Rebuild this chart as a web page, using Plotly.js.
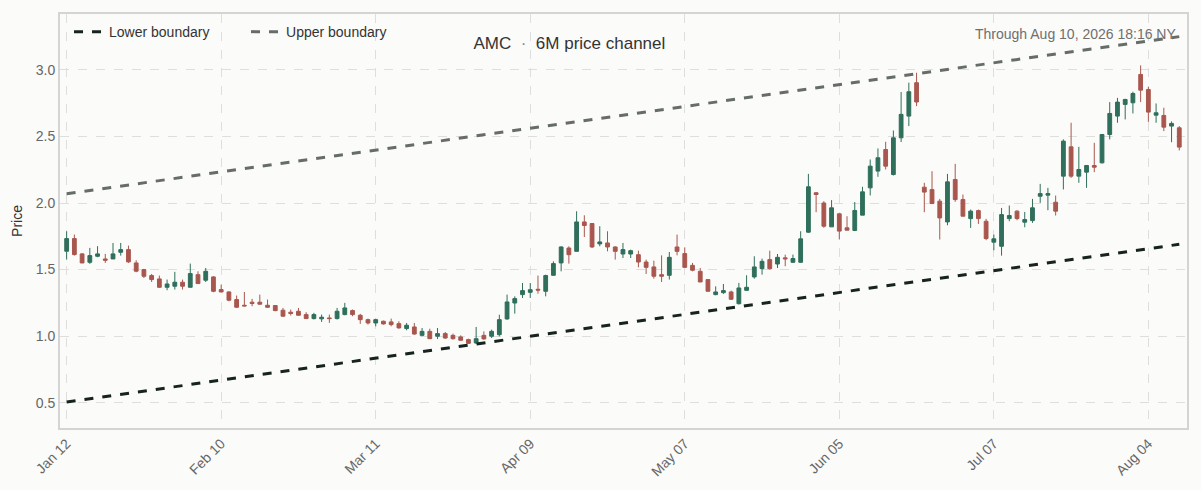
<!DOCTYPE html>
<html>
<head>
<meta charset="utf-8">
<script src="https://cdn.plot.ly/plotly-3.0.1.min.js"></script>
<style>
  html, body { margin: 0; padding: 0; background: #fbfbf9; }
  #chart { width: 1201px; height: 490px; }
</style>
</head>
<body>
<div id="chart"></div>
<script>
// Trading days, 2026 (Jan 12 .. Aug 10)
const daysJan = [12,13,14,15,16,20,21,22,23,26,27,28,29,30];
const daysFeb = [2,3,4,5,6,9,10,11,12,13,17,18,19,20,23,24,25,26,27];
const daysMar = [2,3,4,5,6,9,10,11,12,13,16,17,18,19,20,23,24,25,26,27,30,31];
const daysApr = [1,2,6,7,8,9,10,13,14,15,16,17,20,21,22,23,24,27,28,29,30];
const daysMay = [1,4,5,6,7,8,11,12,13,14,15,18,19,20,21,22,26,27,28,29];
const daysJun = [1,2,3,4,5,8,9,10,11,12,15,16,17,18,22,23,24,25,26,29,30];
const daysJul = [1,2,6,7,8,9,10,13,14,15,16,17,20,21,22,23,24,27,28,29,30,31];
const daysAug = [3,4,5,6,7,10];

const openP = [
1.638,1.733,1.618,1.555,1.600,1.580,1.580,1.630,1.650,1.550,
1.500,1.455,1.430,1.367,1.375,1.405,1.367,1.462,1.420,1.445,
1.350,1.332,1.275,1.232,1.255,1.255,1.232,1.230,1.195,1.180,
1.187,1.162,1.132,1.130,1.137,1.132,1.162,1.192,1.157,1.124,
1.099,1.112,1.107,1.094,1.057,1.069,1.006,1.036,0.999,1.019,
1.006,0.994,0.974,0.949,1.006,0.999,1.011,1.129,1.249,1.312,
1.329,1.352,1.337,1.457,1.550,1.662,1.637,1.858,1.846,1.693,
1.700,1.670,1.617,1.617,1.612,1.557,1.520,1.462,1.457,1.670,
1.620,1.532,1.487,1.425,1.312,1.327,1.332,1.244,1.344,1.445,
1.507,1.575,1.542,1.588,1.555,1.555,1.781,2.077,2.000,1.821,
1.919,1.814,1.794,1.909,2.114,2.240,2.402,2.214,2.490,2.653,
2.904,2.119,2.101,2.014,1.858,2.177,2.026,1.883,1.943,1.863,
1.706,1.675,1.883,1.939,1.856,1.868,2.051,2.059,2.006,2.202,
2.422,2.202,2.232,2.282,2.302,2.515,2.653,2.741,2.753,2.966,
2.853,2.660,2.658,2.578,2.565];
const highP = [
1.788,1.763,1.625,1.663,1.676,1.618,1.700,1.700,1.680,1.570,
1.505,1.467,1.455,1.425,1.483,1.425,1.545,1.487,1.512,1.450,
1.387,1.337,1.305,1.332,1.280,1.312,1.275,1.232,1.212,1.200,
1.212,1.180,1.175,1.162,1.162,1.212,1.250,1.200,1.167,1.132,
1.132,1.117,1.132,1.112,1.099,1.099,1.061,1.056,1.061,1.031,
1.019,1.006,0.981,1.069,1.036,1.049,1.161,1.312,1.299,1.399,
1.399,1.455,1.462,1.562,1.675,1.675,1.938,1.908,1.846,1.826,
1.788,1.675,1.700,1.650,1.642,1.575,1.567,1.607,1.632,1.763,
1.667,1.550,1.512,1.425,1.374,1.392,1.342,1.400,1.457,1.600,
1.582,1.642,1.617,1.612,1.613,1.788,2.219,2.082,2.014,2.022,
1.921,1.901,2.007,2.122,2.327,2.410,2.460,2.545,2.834,2.904,
2.979,2.152,2.239,2.031,2.219,2.294,2.064,1.951,1.951,1.881,
1.763,1.963,1.981,1.946,1.933,2.031,2.144,2.114,2.056,2.478,
2.603,2.422,2.282,2.452,2.515,2.758,2.790,2.783,2.836,3.034,
2.873,2.748,2.716,2.613,2.578];
const lowP = [
1.575,1.605,1.548,1.543,1.593,1.550,1.580,1.605,1.550,1.480,
1.437,1.407,1.362,1.345,1.350,1.350,1.367,1.392,1.407,1.330,
1.330,1.262,1.212,1.225,1.225,1.237,1.212,1.187,1.145,1.155,
1.155,1.130,1.125,1.107,1.100,1.125,1.157,1.150,1.092,1.087,
1.074,1.087,1.074,1.056,1.044,1.011,0.999,0.979,0.979,0.979,
0.974,0.966,0.941,0.941,0.974,0.986,0.998,1.124,1.169,1.287,
1.287,1.319,1.299,1.455,1.487,1.545,1.637,1.745,1.662,1.675,
1.637,1.575,1.587,1.587,1.517,1.467,1.432,1.407,1.425,1.607,
1.512,1.487,1.407,1.337,1.307,1.317,1.272,1.237,1.342,1.432,
1.462,1.500,1.512,1.525,1.550,1.550,1.776,1.931,1.814,1.821,
1.726,1.796,1.789,1.909,2.057,2.197,2.252,2.207,2.458,2.578,
2.728,1.931,1.994,1.726,1.833,2.009,1.901,1.813,1.843,1.721,
1.645,1.605,1.863,1.871,1.818,1.851,2.001,1.946,1.906,2.102,
2.189,2.152,2.114,2.232,2.297,2.478,2.603,2.628,2.673,2.758,
2.610,2.603,2.540,2.457,2.395];
const closeP = [
1.733,1.613,1.550,1.605,1.618,1.570,1.618,1.650,1.558,1.488,
1.450,1.425,1.367,1.392,1.405,1.375,1.470,1.395,1.487,1.337,
1.332,1.270,1.217,1.227,1.245,1.240,1.217,1.192,1.150,1.170,
1.157,1.132,1.162,1.142,1.132,1.187,1.212,1.162,1.124,1.099,
1.124,1.092,1.087,1.062,1.082,1.016,1.036,0.981,1.019,0.986,
0.981,0.969,0.946,0.981,0.979,1.036,1.124,1.257,1.282,1.342,
1.349,1.346,1.455,1.545,1.670,1.612,1.858,1.831,1.670,1.708,
1.670,1.637,1.650,1.642,1.557,1.517,1.450,1.450,1.592,1.637,
1.517,1.495,1.407,1.337,1.332,1.342,1.277,1.362,1.367,1.520,
1.562,1.507,1.592,1.581,1.583,1.731,2.122,2.064,1.826,1.964,
1.789,1.796,1.944,2.084,2.277,2.340,2.277,2.490,2.666,2.836,
2.759,2.082,1.996,1.888,2.159,2.026,1.901,1.939,1.883,1.733,
1.731,1.913,1.906,1.883,1.876,1.964,2.071,2.071,1.939,2.465,
2.202,2.252,2.282,2.269,2.515,2.673,2.758,2.778,2.823,2.848,
2.683,2.678,2.570,2.598,2.420];

// Channel boundaries at first and last session
const lowerBoundary = [0.505, 1.69];
const upperBoundary = [2.07, 3.25];

const tickDates = ['2026-01-12','2026-02-10','2026-03-11','2026-04-09','2026-05-07','2026-06-05','2026-07-07','2026-08-04'];
const tickLabels = ['Jan 12','Feb 10','Mar 11','Apr 09','May 07','Jun 05','Jul 07','Aug 04'];

function build(month, days) {
  return days.map(d => '2026-' + month + '-' + String(d).padStart(2, '0'));
}
const dates = [].concat(
  build('01', daysJan), build('02', daysFeb), build('03', daysMar), build('04', daysApr),
  build('05', daysMay), build('06', daysJun), build('07', daysJul), build('08', daysAug));

const idx = dates.map((d, i) => i);
const tickIdx = tickDates.map(d => dates.indexOf(d));
const ends = [0, dates.length - 1];

const GREEN = '#2f6f5b';
const RED = '#a9574e';

const traces = [
  {
    type: 'candlestick',
    x: idx, open: openP, high: highP, low: lowP, close: closeP,
    increasing: { line: { color: GREEN, width: 1 }, fillcolor: GREEN },
    decreasing: { line: { color: RED, width: 1 }, fillcolor: RED },
    whiskerwidth: 0,
    showlegend: false,
    hoverinfo: 'skip'
  },
  {
    type: 'scatter', mode: 'lines', name: 'Lower boundary',
    x: ends, y: lowerBoundary,
    line: { color: '#17231e', width: 3, dash: 'dash' }
  },
  {
    type: 'scatter', mode: 'lines', name: 'Upper boundary',
    x: ends, y: upperBoundary,
    line: { color: '#666d69', width: 3, dash: 'dash' }
  }
];

const layout = {
  width: 1201, height: 490,
  margin: { l: 60, r: 14, t: 14, b: 62 },
  paper_bgcolor: '#fbfbf9',
  plot_bgcolor: '#fbfbf9',
  font: { family: 'Liberation Sans, Arial, sans-serif', color: '#555', size: 14 },
  showlegend: true,
  legend: {
    orientation: 'h', x: 0.008, y: 0.995, xanchor: 'left', yanchor: 'top',
    bgcolor: 'rgba(0,0,0,0)', font: { size: 14, color: '#333' },
    entrywidth: 132
  },
  title: {
    text: 'AMC &nbsp;<span style="color:#888">·</span>&nbsp; 6M price channel',
    x: 0.452, xanchor: 'center', xref: 'paper',
    y: 0.912, yanchor: 'middle',
    font: { size: 17, color: '#333' }
  },
  xaxis: {
    type: 'linear',
    range: [-0.86, 145.0],
    tickmode: 'array', tickvals: tickIdx, ticktext: tickLabels,
    tickangle: -45,
    showgrid: true, gridcolor: '#dedede', griddash: 'dash', gridwidth: 1,
    zeroline: false,
    showline: true, mirror: true, linecolor: '#d4d4d4', linewidth: 2,
    ticks: '', tickfont: { size: 14, color: '#666' },
    rangeslider: { visible: false },
    fixedrange: true
  },
  yaxis: {
    range: [0.31, 3.42],
    tickvals: [0.5, 1.0, 1.5, 2.0, 2.5, 3.0],
    tickformat: '.1f',
    showgrid: true, gridcolor: '#dedede', griddash: 'dash', gridwidth: 1,
    zeroline: false,
    showline: true, mirror: true, linecolor: '#d4d4d4', linewidth: 2,
    ticks: '', tickfont: { size: 14, color: '#666' },
    title: { text: 'Price', font: { size: 14, color: '#333' }, standoff: 10 }
  },
  annotations: [{
    text: 'Through Aug 10, 2026 18:16 NY',
    xref: 'paper', yref: 'paper', x: 0.992, y: 0.952,
    xanchor: 'right', yanchor: 'middle', showarrow: false,
    font: { size: 14, color: '#6f6f6f' }
  }]
};

Plotly.newPlot('chart', traces, layout, { displayModeBar: false, staticPlot: true });
</script>
</body>
</html>
